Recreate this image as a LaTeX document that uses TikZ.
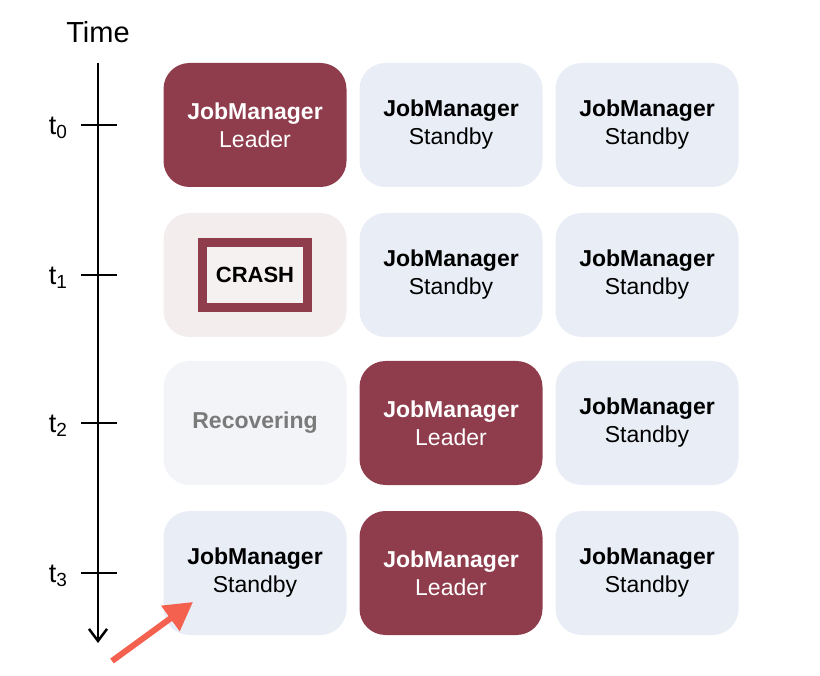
\documentclass[tikz,border=0pt]{standalone}
\usepackage{fontspec}
\setmainfont{Liberation Sans}
\usetikzlibrary{arrows.meta}
\definecolor{leaderc}{HTML}{8F3D4C}
\definecolor{standbyc}{HTML}{E8EDF6}
\definecolor{crashbg}{HTML}{F3EDEE}
\definecolor{crashin}{HTML}{F6F1F1}
\definecolor{recbg}{HTML}{F3F4F8}
\definecolor{recfg}{HTML}{7A7A7A}
\definecolor{arrowred}{HTML}{F4614F}
\tikzset{
  jm/.style={rounded corners=26pt, minimum width=183pt, minimum height=124pt, inner sep=0pt, align=center, font=\fontsize{23}{28}\selectfont},
  leader/.style={jm, fill=leaderc, text=white},
  standby/.style={jm, fill=standbyc, text=black},
  crashcell/.style={jm, fill=crashbg},
  reccell/.style={jm, fill=recbg, text=recfg},
  crashbox/.style={draw=leaderc, line width=9pt, fill=crashin, minimum width=105pt, minimum height=65pt, inner sep=0pt, font=\bfseries\fontsize{22}{24}\selectfont},
  tick/.style={line width=2.5pt},
  tlabel/.style={font=\fontsize{27}{29}\selectfont, anchor=center},
}
\newcommand{\jmtext}[1]{\textbf{JobManager}\\#1}
\newcommand{\tsub}[1]{t\raisebox{-0.3ex}{\fontsize{19}{19}\selectfont #1}}
\begin{document}
\begin{tikzpicture}[x=1pt,y=-1pt]
\useasboundingbox (0,0) rectangle (820,676);
% grid of cells
\node[leader]  (c00) at (255,125) {\jmtext{Leader}};
\node[standby] (c01) at (451,125) {\jmtext{Standby}};
\node[standby] (c02) at (647,125) {\jmtext{Standby}};
\node[crashcell] (c10) at (255,275) {};
\node[crashbox] (crash) at (c10) {CRASH};
\node[standby] (c11) at (451,275) {\jmtext{Standby}};
\node[standby] (c12) at (647,275) {\jmtext{Standby}};
\node[reccell] (c20) at (255,423) {\textbf{Recovering}};
\node[leader]  (c21) at (451,423) {\jmtext{Leader}};
\node[standby] (c22) at (647,423) {\jmtext{Standby}};
\node[standby] (c30) at (255,573) {\jmtext{Standby}};
\node[leader]  (c31) at (451,573) {\jmtext{Leader}};
\node[standby] (c32) at (647,573) {\jmtext{Standby}};
% time axis
\node[font=\fontsize{29}{31}\selectfont] (time) at (98,32) {Time};
\coordinate (atop) at (98,63);
\coordinate (abot) at (98,643);
\draw[line width=2.5pt, -{Straight Barb[length=12pt,width=18pt,line width=2.5pt]}] (atop) -- (abot);
\foreach \i/\y in {0/125,1/275,2/423,3/573}{
  \coordinate (tl\i) at (81,\y);
  \coordinate (tr\i) at (117,\y);
  \draw[tick] (tl\i) -- (tr\i);
  \node[tlabel] (t\i) at (58,\y+3) {\tsub{\i}};
}
% highlight arrow
\coordinate (rtail) at (112,661);
\coordinate (rtip) at (193,602);
\draw[arrowred, line width=6pt, -{Triangle[length=28pt,width=30pt]}] (rtail) -- (rtip);
\end{tikzpicture}
\end{document}
